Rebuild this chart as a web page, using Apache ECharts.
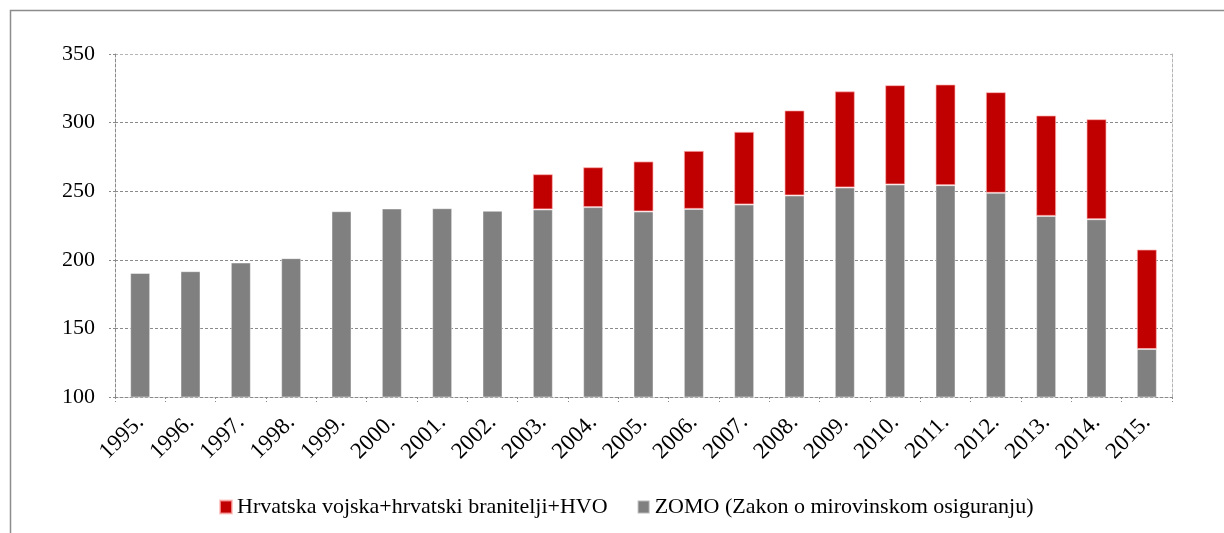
<!DOCTYPE html>
<html>
<head>
<meta charset="utf-8">
<script src="https://cdn.jsdelivr.net/npm/echarts@6/dist/echarts.min.js"></script>
<style>
html,body{margin:0;padding:0;background:#fff;}
#chart{width:1224px;height:533px;}
</style>
</head>
<body>
<div id="chart"></div>
<script>
var categories = ['1995.','1996.','1997.','1998.','1999.','2000.','2001.','2002.','2003.','2004.','2005.','2006.','2007.','2008.','2009.','2010.','2011.','2012.','2013.','2014.','2015.'];
var zomoValues = [190.4,191.7,198,201.2,235.4,237.4,237.6,235.7,236.7,238.4,235.2,237.1,240.3,246.9,252.7,254.9,254.4,248.8,232,229.6,135];
var vojskaValues = [null,null,null,null,null,null,null,null,25.7,29.1,36.5,42.3,53.0,62.0,70.1,72.4,73.4,73.4,73.2,72.9,72.5];
var seriesNames = ['Hrvatska vojska+hrvatski branitelji+HVO','ZOMO (Zakon o mirovinskom osiguranju)'];
var yTicks = {min:100, max:350, interval:50};

var font = 'Liberation Serif';
var chart = echarts.init(document.getElementById('chart'), null, {renderer:'canvas'});
chart.setOption({
  animation:false,
  backgroundColor:'#fff',
  textStyle:{fontFamily:font},
  graphic:[{type:'rect', shape:{x:10.5,y:10.5,width:1300,height:600}, style:{fill:'none', stroke:'#8c8c8c', lineWidth:1.5}, silent:true}],
  grid:{left:115, right:52, top:54, bottom:136},
  legend:{
    data:seriesNames, left:214, top:491, itemWidth:12, itemHeight:13, itemGap:29,
    icon:'rect',
    textStyle:{fontFamily:font, fontSize:22, color:'#000'}
  },
  xAxis:{
    type:'category', data:categories,
    axisLine:{lineStyle:{color:'#8a8a8a', type:[3,2], width:1}},
    axisTick:{show:true, length:5, lineStyle:{color:'#8a8a8a', type:[2,2]}},
    axisLabel:{rotate:45, margin:22, fontSize:23, color:'#000', fontFamily:font}
  },
  yAxis:[{
    type:'value', min:yTicks.min, max:yTicks.max, interval:yTicks.interval,
    axisLine:{show:true, lineStyle:{color:'#8a8a8a', type:[3,2], width:1}},
    axisTick:{show:true, length:6, lineStyle:{color:'#8a8a8a', type:[2,2]}},
    axisLabel:{margin:20, fontSize:22, color:'#000', fontFamily:font},
    splitLine:{show:true, lineStyle:{color:['#8a8a8a','#8a8a8a','#8a8a8a','#8a8a8a','#8a8a8a','#b4b4b4'], type:[3,2], width:1}}
  },{
    type:'value', min:yTicks.min, max:yTicks.max, interval:yTicks.interval, position:'right',
    axisLine:{show:true, lineStyle:{color:'#b4b4b4', type:[3,2], width:1}},
    axisTick:{show:false}, axisLabel:{show:false}, splitLine:{show:false}
  }],
  series:[{
    name:seriesNames[1], type:'bar', stack:'total', data:zomoValues, barWidth:20,
    itemStyle:{color:'#808080', borderColor:'rgba(255,255,255,0.45)', borderWidth:1}
  },{
    name:seriesNames[0], type:'bar', stack:'total', data:vojskaValues, barWidth:20,
    itemStyle:{color:'#c00000', borderColor:'rgba(255,180,180,0.7)', borderWidth:1}
  }]
});
</script>
</body>
</html>
